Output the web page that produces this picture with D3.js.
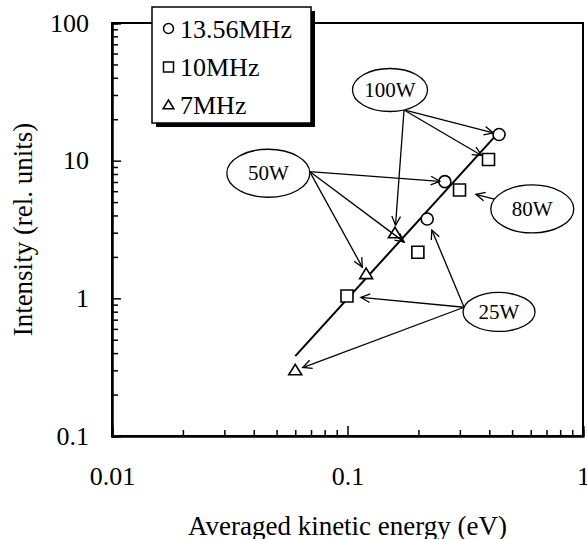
<!DOCTYPE html>
<html>
<head>
<meta charset="utf-8">
<script src="https://cdn.jsdelivr.net/npm/d3@7"></script>
<style>
  body { margin: 0; background: #fff; }
  svg { display: block; font-family: "Liberation Serif", "Times New Roman", serif; }
</style>
</head>
<body>
<svg id="chart" width="587" height="539"></svg>
<script>
// data
const freqs = ["13.56MHz", "10MHz", "7MHz"];
const energy1356 = [0.218, 0.259, 0.44];
const intensity1356 = [3.77, 7.04, 15.5];
const power1356 = [25, 50, 100];
const energy10 = [0.0995, 0.199, 0.299, 0.397];
const intensity10 = [1.04, 2.16, 6.12, 10.2];
const power10 = [25, 50, 80, 100];
const energy7 = [0.06, 0.12, 0.159];
const intensity7 = [0.30, 1.50, 2.97];
const power7 = [25, 50, 100];
const fitEnergy = [0.06, 0.423];
const fitIntensity = [0.38, 15.0];
const xTicks = [0.01, 0.1, 1];
const yTicks = [0.1, 1, 10, 100];
const powerLabels = ["100W", "50W", "80W", "25W"];
const labelEnergy = [0.1515, 0.0461, 0.609, 0.44];
const labelIntensity = [32.6, 8.1, 4.46, 0.796];

const series = {
    "13.56MHz": energy1356.map((e, i) => ({ x: e, y: intensity1356[i], p: power1356[i] })),
    "10MHz": energy10.map((e, i) => ({ x: e, y: intensity10[i], p: power10[i] })),
    "7MHz": energy7.map((e, i) => ({ x: e, y: intensity7[i], p: power7[i] })),
};

// which points each label points at, [series, gap before marker]
const arrows = {
    "100W": [["13.56MHz", 6], ["10MHz", 8], ["7MHz", 8]],
    "50W": [["13.56MHz", 5], ["10MHz", 17], ["7MHz", 8]],
    "80W": [["10MHz", 17]],
    "25W": [["13.56MHz", 12], ["10MHz", 14], ["7MHz", 8]],
};
const bubble = {
    "100W": { rx: 37.5, ry: 21.5, a: 68 },
    "50W": { rx: 41.5, ry: 24, a: -4 },
    "80W": { rx: 41.5, ry: 24, a: 204 },
    "25W": { rx: 36, ry: 19.5, a: 194 },
};

const svg = d3.select("#chart");
const m = { left: 112, right: 583, top: 23, bottom: 436 };

const x = d3.scaleLog().domain([0.01, 1]).range([m.left, m.right]);
const y = d3.scaleLog().domain([0.1, 100]).range([m.bottom, m.top]);

const minor = (lo, hi) => {
    let out = [];
    for (let d = lo; d < hi; d *= 10)
        for (let k = 2; k <= 9; k++) out.push(d * k);
    return out;
};

// frame
svg.append("rect")
    .attr("x", m.left).attr("y", m.top)
    .attr("width", m.right - m.left).attr("height", m.bottom - m.top)
    .attr("fill", "none").attr("stroke", "#000").attr("stroke-width", 2);

// axes, ticks pointing inside
const xMinor = d3.axisBottom(x).tickValues(minor(0.01, 1)).tickSize(-6).tickFormat("");
const xMajor = d3.axisBottom(x).tickValues(xTicks).tickSize(-10).tickPadding(31)
    .tickFormat(d3.format("~g"));
const yMinor = d3.axisLeft(y).tickValues(minor(0.1, 100)).tickSize(-6).tickFormat("");
const yMajor = d3.axisLeft(y).tickValues(yTicks).tickSize(-9).tickPadding(23)
    .tickFormat(d3.format("~g"));

[xMinor, xMajor].forEach(a => {
    svg.append("g").attr("transform", `translate(0,${m.bottom})`).call(a);
});
[yMinor, yMajor].forEach(a => {
    svg.append("g").attr("transform", `translate(${m.left},0)`).call(a);
});
svg.selectAll(".domain").attr("stroke-width", 2);
svg.selectAll(".tick line").attr("stroke-width", 1.5);
svg.selectAll(".tick text")
    .attr("font-size", 26)
    .attr("font-family", "Liberation Serif")
    .attr("fill", "#000");

// axis titles
svg.append("text")
    .attr("x", (m.left + m.right) / 2).attr("y", 526)
    .attr("text-anchor", "middle").attr("dominant-baseline", "central")
    .attr("font-size", 27)
    .text("Averaged kinetic energy (eV)");
svg.append("text")
    .attr("transform", `translate(23,${(m.top + m.bottom) / 2}) rotate(-90)`)
    .attr("text-anchor", "middle").attr("dominant-baseline", "central")
    .attr("font-size", 27)
    .text("Intensity (rel. units)");

// fit line
svg.append("line")
    .attr("x1", x(fitEnergy[0])).attr("y1", y(fitIntensity[0]))
    .attr("x2", x(fitEnergy[1])).attr("y2", y(fitIntensity[1]))
    .attr("stroke", "#000").attr("stroke-width", 2);

// markers
const shape = {
    "13.56MHz": r => `M${r},0A${r},${r},0,1,1,${-r},0A${r},${r},0,1,1,${r},0Z`,
    "10MHz": r => `M${-r},${-r}H${r}V${r}H${-r}Z`,
    "7MHz": r => `M0,${-r}L${r * 1.08},${r * 0.75}H${-r * 1.08}Z`,
};

freqs.forEach(f => {
    svg.append("g").selectAll("path")
        .data(series[f])
        .join("path")
        .attr("transform", d => `translate(${x(d.x)},${y(d.y)})`)
        .attr("d", shape[f](6))
        .attr("fill", "#fff")
        .attr("stroke", "#000")
        .attr("stroke-width", 1.6);
});

// power labels with arrows
const arrowHead = (x0, y0, x1, y1) => {
    const ang = Math.atan2(y1 - y0, x1 - x0);
    const len = 10, spread = 0.45;
    const a = [x1 - len * Math.cos(ang - spread), y1 - len * Math.sin(ang - spread)];
    const b = [x1 - len * Math.cos(ang + spread), y1 - len * Math.sin(ang + spread)];
    return `M${a[0]},${a[1]}L${x1},${y1}L${b[0]},${b[1]}`;
};

powerLabels.forEach((lab, i) => {
    const cx = x(labelEnergy[i]), cy = y(labelIntensity[i]);
    const b = bubble[lab];
    const t = b.a * Math.PI / 180;
    const ax = cx + b.rx * Math.cos(t), ay = cy + b.ry * Math.sin(t);
    const p = +lab.replace("W", "");
    const g = svg.append("g");

    arrows[lab].forEach(([f, gap]) => {
        const pt = series[f].find(d => d.p === p);
        const tx = x(pt.x), ty = y(pt.y);
        const dist = Math.hypot(tx - ax, ty - ay);
        const ex = tx - (tx - ax) * gap / dist, ey = ty - (ty - ay) * gap / dist;
        g.append("line")
            .attr("x1", ax).attr("y1", ay).attr("x2", ex).attr("y2", ey)
            .attr("stroke", "#000").attr("stroke-width", 1.3);
        g.append("path")
            .attr("d", arrowHead(ax, ay, ex, ey))
            .attr("fill", "none").attr("stroke", "#000").attr("stroke-width", 1.3);
    });

    g.append("ellipse")
        .attr("cx", cx).attr("cy", cy).attr("rx", b.rx).attr("ry", b.ry)
        .attr("fill", "#fff").attr("stroke", "#000").attr("stroke-width", 1.3);
    g.append("text")
        .attr("x", cx).attr("y", cy)
        .attr("text-anchor", "middle").attr("dominant-baseline", "central")
        .attr("font-size", 21)
        .text(lab);
});

// legend with drop shadow
const legend = svg.append("g");
legend.append("rect")
    .attr("x", 156).attr("y", 11).attr("width", 159).attr("height", 116)
    .attr("fill", "#000");
legend.append("rect")
    .attr("x", 152).attr("y", 7).attr("width", 159).attr("height", 116)
    .attr("fill", "#fff").attr("stroke", "#000").attr("stroke-width", 1.5);

const legendRows = [37.5, 76, 114];
freqs.forEach((f, i) => {
    legend.append("path")
        .attr("transform", `translate(168.5,${legendRows[i] - 9})`)
        .attr("d", shape[f](5))
        .attr("fill", "none").attr("stroke", "#000").attr("stroke-width", 1.5);
    legend.append("text")
        .attr("x", 180).attr("y", legendRows[i])
        .attr("font-size", 26)
        .text(f);
});
</script>
</body>
</html>
